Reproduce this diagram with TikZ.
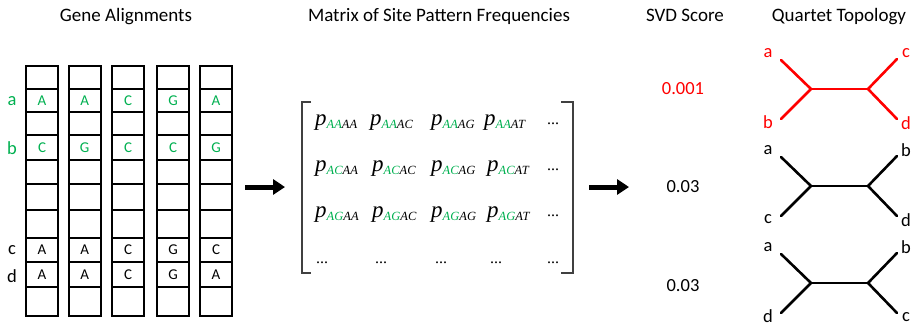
\documentclass[tikz,border=0pt]{standalone}
\usepackage{fontspec}
\setmainfont{Carlito}
\newfontfamily\mathserif{Liberation Serif}
\usetikzlibrary{arrows.meta}
\definecolor{seqgreen}{RGB}{0,176,80}
\definecolor{bestred}{RGB}{255,0,0}
\newcommand{\fsz}[1]{\fontsize{#1}{#1}\selectfont}
% one matrix entry: p with a four-letter pattern, first two letters green
\newcommand{\pent}[2]{{\mathserif\itshape\fsz{23}p}\raisebox{-3.5pt}{\mathserif\itshape\fsz{12.5}\textcolor{seqgreen}{#1}#2}}
\begin{document}
\begin{tikzpicture}[x=1pt,y=-1pt,
  title/.style={font=\fsz{19}, anchor=base},
  lbl/.style={font=\fsz{18.5}, inner sep=0pt},
  cell/.style={draw, line width=1.8pt, minimum width=32pt, inner sep=0pt},
  base/.style={font=\fsz{15}},
  entry/.style={anchor=base west, inner sep=0pt},
  dots/.style={anchor=base west, inner sep=0pt, font=\mathserif\fsz{16}},
  bigarrow/.style={line width=5pt, -{Triangle[length=12pt,width=15pt]}},
  branch/.style={line width=2.6pt, line cap=round},
  bracket/.style={line width=1.3pt, black!75}]
\useasboundingbox (0,0) rectangle (914,327);

% headings
\node[title] (t1) at (126,21) {Gene Alignments};
\node[title] (t2) at (439,21) {Matrix of Site Pattern Frequencies};
\node[title] (t3) at (685,21) {SVD Score};
\node[title] (t4) at (839,21) {Quartet Topology};

% alignment columns: ten cells each, row boundaries listed below
\def\rowb{{66,89,112,135,160,184,210,238,262,287,316}}
\foreach \c/\x in {1/42,2/84.7,3/128,4/173,5/216}{
  \foreach \r in {0,...,9}{
    \pgfmathsetmacro{\ya}{\rowb[\r]}
    \pgfmathsetmacro{\yb}{\rowb[\r+1]}
    \node[cell, minimum height={\yb-\ya}] (cell\c-\r) at (\x,{(\ya+\yb)/2}) {};
  }
}
% bases of the four taxa
\foreach \c/\la/\lb/\lc/\ld in {1/A/C/A/A,2/A/G/A/A,3/C/C/C/C,4/G/C/G/G,5/A/G/C/A}{
  \node[base, text=seqgreen] at (cell\c-1) {\la};
  \node[base, text=seqgreen] at (cell\c-3) {\lb};
  \node[base] at (cell\c-7) {\lc};
  \node[base] at (cell\c-8) {\ld};
}
% taxon names
\node[lbl, text=seqgreen] (la) at (12,101) {a};
\node[lbl, text=seqgreen] (lb) at (12,148) {b};
\node[lbl] (lc) at (12,250) {c};
\node[lbl] (ld) at (12,276) {d};

% arrows between the stages
\coordinate (a1s) at (245,187);
\coordinate (a1e) at (285,187);
\coordinate (a2s) at (589,187);
\coordinate (a2e) at (629,187);
\draw[bigarrow] (a1s) -- (a1e);
\draw[bigarrow] (a2s) -- (a2e);

% matrix brackets
\draw[bracket] (311,102) -- (302,102) -- (302,273) -- (311,273);
\draw[bracket] (561,102) -- (573,102) -- (573,273) -- (561,273);

% matrix entries
\node[entry] (m11) at (315,125) {\pent{AA}{AA}};
\node[entry] (m12) at (370,125) {\pent{AA}{AC}};
\node[entry] (m13) at (431,125) {\pent{AA}{AG}};
\node[entry] (m14) at (484,125) {\pent{AA}{AT}};
\node[dots] (m15) at (547,124) {...};
\node[entry] (m21) at (315,171) {\pent{AC}{AA}};
\node[entry] (m22) at (372,171) {\pent{AC}{AC}};
\node[entry] (m23) at (431,171) {\pent{AC}{AG}};
\node[entry] (m24) at (487,171) {\pent{AC}{AT}};
\node[dots] (m25) at (547,170) {...};
\node[entry] (m31) at (315,217) {\pent{AG}{AA}};
\node[entry] (m32) at (372,217) {\pent{AG}{AC}};
\node[entry] (m33) at (431,217) {\pent{AG}{AG}};
\node[entry] (m34) at (487,217) {\pent{AG}{AT}};
\node[dots] (m35) at (547,216) {...};
\foreach \i/\x in {1/316,2/375,3/435,4/490,5/547}{
  \node[dots] (m4\i) at (\x,263) {...};
}

% scores
\node[lbl, text=bestred] (s1) at (683,89) {0.001};
\node[lbl] (s2) at (683,187) {0.03};
\node[lbl] (s3) at (683,286) {0.03};

% quartet trees
\foreach \k/\y/\tl/\bl/\tr/\br/\col in {1/89/a/b/c/d/bestred, 2/186/a/c/b/d/black, 3/283/a/d/b/c/black}{
  \coordinate (q\k-l) at (811,\y);
  \coordinate (q\k-r) at (868,\y);
  \coordinate (q\k-tl) at (781,\y-29);
  \coordinate (q\k-bl) at (781,\y+30);
  \coordinate (q\k-tr) at (897,\y-30);
  \coordinate (q\k-br) at (897,\y+30);
  \draw[branch, draw=\col] (q\k-tl) -- (q\k-l) -- (q\k-bl);
  \draw[branch, draw=\col] (q\k-l) -- (q\k-r);
  \draw[branch, draw=\col] (q\k-tr) -- (q\k-r) -- (q\k-br);
  \node[lbl, text=\col] (q\k-ntl) at (768,\y-36) {\tl};
  \node[lbl, text=\col] (q\k-nbl) at (768,\y+33.5) {\bl};
  \node[lbl, text=\col] (q\k-ntr) at (906,\y-36) {\tr};
  \node[lbl, text=\col] (q\k-nbr) at (906,\y+34.5) {\br};
}
\end{tikzpicture}
\end{document}
